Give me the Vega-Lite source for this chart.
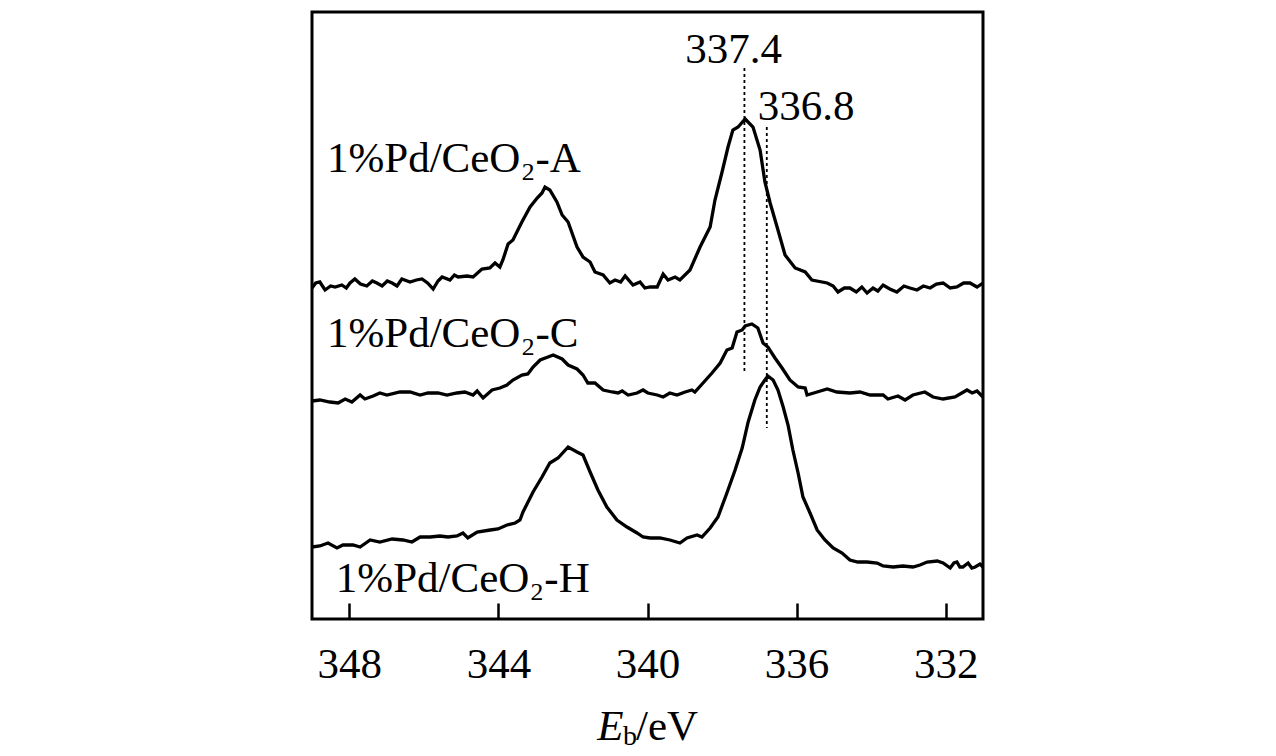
{
  "$schema": "https://vega.github.io/schema/vega-lite/v6.json",
  "width": 671,
  "height": 607,
  "autosize": {"type": "none"},
  "padding": {"left": 312, "top": 12, "right": 293, "bottom": 137},
  "background": "white",
  "config": {
    "view": {"stroke": "black", "strokeWidth": 3},
    "font": "Liberation Serif"
  },
  "datasets": {
    "spectra": [
      {"s":"A","e":349.00,"i":331},{"s":"A","e":348.90,"i":336},{"s":"A","e":348.79,"i":337},{"s":"A","e":348.65,"i":329},{"s":"A","e":348.50,"i":333},{"s":"A","e":348.38,"i":332},{"s":"A","e":348.20,"i":334},{"s":"A","e":348.08,"i":331},{"s":"A","e":347.98,"i":336},{"s":"A","e":347.85,"i":340},{"s":"A","e":347.70,"i":335},{"s":"A","e":347.53,"i":333},{"s":"A","e":347.38,"i":338},{"s":"A","e":347.26,"i":336},{"s":"A","e":347.12,"i":333},{"s":"A","e":346.98,"i":338},{"s":"A","e":346.85,"i":336},{"s":"A","e":346.72,"i":333},{"s":"A","e":346.59,"i":340},{"s":"A","e":346.37,"i":337},{"s":"A","e":346.20,"i":339},{"s":"A","e":346.05,"i":340},{"s":"A","e":345.90,"i":336},{"s":"A","e":345.75,"i":330},{"s":"A","e":345.62,"i":338},{"s":"A","e":345.51,"i":342},{"s":"A","e":345.30,"i":339},{"s":"A","e":345.18,"i":344},{"s":"A","e":345.08,"i":342},{"s":"A","e":344.84,"i":343},{"s":"A","e":344.68,"i":342},{"s":"A","e":344.44,"i":350},{"s":"A","e":344.23,"i":351},{"s":"A","e":344.09,"i":356},{"s":"A","e":343.96,"i":352},{"s":"A","e":343.88,"i":359},{"s":"A","e":343.74,"i":375},{"s":"A","e":343.61,"i":379},{"s":"A","e":343.37,"i":397},{"s":"A","e":343.15,"i":412},{"s":"A","e":342.96,"i":421},{"s":"A","e":342.83,"i":426},{"s":"A","e":342.75,"i":432},{"s":"A","e":342.62,"i":429},{"s":"A","e":342.43,"i":417},{"s":"A","e":342.29,"i":404},{"s":"A","e":342.13,"i":397},{"s":"A","e":341.89,"i":372},{"s":"A","e":341.73,"i":362},{"s":"A","e":341.54,"i":357},{"s":"A","e":341.41,"i":347},{"s":"A","e":341.19,"i":344},{"s":"A","e":341.01,"i":336},{"s":"A","e":340.87,"i":339},{"s":"A","e":340.72,"i":337},{"s":"A","e":340.60,"i":343},{"s":"A","e":340.39,"i":334},{"s":"A","e":340.20,"i":337},{"s":"A","e":340.07,"i":331},{"s":"A","e":339.93,"i":332},
      {"s":"A","e":339.74,"i":332},{"s":"A","e":339.58,"i":345},{"s":"A","e":339.45,"i":339},{"s":"A","e":339.26,"i":342},{"s":"A","e":339.13,"i":339},{"s":"A","e":338.86,"i":349},{"s":"A","e":338.59,"i":372},{"s":"A","e":338.32,"i":392},{"s":"A","e":338.19,"i":419},{"s":"A","e":338.00,"i":447},{"s":"A","e":337.84,"i":472},{"s":"A","e":337.71,"i":489},{"s":"A","e":337.57,"i":492},{"s":"A","e":337.38,"i":500},{"s":"A","e":337.17,"i":492},{"s":"A","e":336.98,"i":469},{"s":"A","e":336.85,"i":437},{"s":"A","e":336.71,"i":416},{"s":"A","e":336.50,"i":389},{"s":"A","e":336.31,"i":364},{"s":"A","e":336.04,"i":351},{"s":"A","e":335.77,"i":347},{"s":"A","e":335.59,"i":339},{"s":"A","e":335.18,"i":336},{"s":"A","e":335.02,"i":333},{"s":"A","e":334.89,"i":327},{"s":"A","e":334.72,"i":331},{"s":"A","e":334.57,"i":331},{"s":"A","e":334.40,"i":327},{"s":"A","e":334.25,"i":332},{"s":"A","e":334.11,"i":326},{"s":"A","e":333.95,"i":331},{"s":"A","e":333.82,"i":328},{"s":"A","e":333.68,"i":334},{"s":"A","e":333.50,"i":330},{"s":"A","e":333.31,"i":327},{"s":"A","e":333.12,"i":333},{"s":"A","e":332.96,"i":331},{"s":"A","e":332.77,"i":329},{"s":"A","e":332.60,"i":333},{"s":"A","e":332.42,"i":331},{"s":"A","e":332.25,"i":335},{"s":"A","e":332.07,"i":336},{"s":"A","e":331.88,"i":331},{"s":"A","e":331.70,"i":332},{"s":"A","e":331.52,"i":336},{"s":"A","e":331.35,"i":336},{"s":"A","e":331.16,"i":332},{"s":"A","e":331.00,"i":336},
      {"s":"C","e":349.00,"i":218},{"s":"C","e":348.79,"i":219},{"s":"C","e":348.52,"i":217},{"s":"C","e":348.30,"i":216},{"s":"C","e":348.11,"i":220},{"s":"C","e":347.93,"i":217},{"s":"C","e":347.71,"i":224},{"s":"C","e":347.58,"i":220},{"s":"C","e":347.36,"i":223},{"s":"C","e":347.18,"i":226},{"s":"C","e":346.99,"i":224},{"s":"C","e":346.64,"i":227},{"s":"C","e":346.37,"i":227},{"s":"C","e":346.10,"i":224},{"s":"C","e":345.89,"i":226},{"s":"C","e":345.62,"i":226},{"s":"C","e":345.38,"i":224},{"s":"C","e":345.11,"i":226},{"s":"C","e":344.90,"i":227},{"s":"C","e":344.68,"i":224},{"s":"C","e":344.57,"i":228},{"s":"C","e":344.41,"i":221},{"s":"C","e":344.17,"i":229},{"s":"C","e":343.96,"i":231},{"s":"C","e":343.77,"i":234},{"s":"C","e":343.61,"i":239},{"s":"C","e":343.37,"i":244},{"s":"C","e":343.21,"i":245},{"s":"C","e":343.07,"i":252},{"s":"C","e":342.88,"i":259},{"s":"C","e":342.67,"i":262},{"s":"C","e":342.53,"i":264},{"s":"C","e":342.29,"i":260},{"s":"C","e":342.13,"i":254},{"s":"C","e":341.89,"i":250},{"s":"C","e":341.73,"i":244},{"s":"C","e":341.60,"i":236},{"s":"C","e":341.41,"i":236},{"s":"C","e":341.19,"i":229},{"s":"C","e":340.95,"i":227},{"s":"C","e":340.79,"i":226},{"s":"C","e":340.68,"i":228},{"s":"C","e":340.52,"i":224},{"s":"C","e":340.28,"i":226},{"s":"C","e":340.12,"i":229},{"s":"C","e":339.99,"i":226},
      {"s":"C","e":339.74,"i":224},{"s":"C","e":339.58,"i":222},{"s":"C","e":339.40,"i":226},{"s":"C","e":339.21,"i":224},{"s":"C","e":338.99,"i":227},{"s":"C","e":338.81,"i":229},{"s":"C","e":338.73,"i":227},{"s":"C","e":338.51,"i":236},{"s":"C","e":338.27,"i":246},{"s":"C","e":338.05,"i":256},{"s":"C","e":337.87,"i":269},{"s":"C","e":337.73,"i":271},{"s":"C","e":337.60,"i":287},{"s":"C","e":337.46,"i":289},{"s":"C","e":337.38,"i":293},{"s":"C","e":337.20,"i":295},{"s":"C","e":337.04,"i":291},{"s":"C","e":336.90,"i":276},{"s":"C","e":336.77,"i":272},{"s":"C","e":336.58,"i":261},{"s":"C","e":336.39,"i":251},{"s":"C","e":336.18,"i":239},{"s":"C","e":335.96,"i":232},{"s":"C","e":335.77,"i":231},{"s":"C","e":335.72,"i":224},{"s":"C","e":335.45,"i":227},{"s":"C","e":335.18,"i":230},{"s":"C","e":334.92,"i":227},{"s":"C","e":334.57,"i":226},{"s":"C","e":334.30,"i":227},{"s":"C","e":334.03,"i":224},{"s":"C","e":333.68,"i":224},{"s":"C","e":333.55,"i":220},{"s":"C","e":333.28,"i":223},{"s":"C","e":333.09,"i":219},{"s":"C","e":332.88,"i":224},{"s":"C","e":332.56,"i":227},{"s":"C","e":332.34,"i":222},{"s":"C","e":332.07,"i":220},{"s":"C","e":331.75,"i":222},{"s":"C","e":331.43,"i":229},{"s":"C","e":331.29,"i":226},{"s":"C","e":331.16,"i":228},{"s":"C","e":331.00,"i":222},
      {"s":"H","e":349.00,"i":72},{"s":"H","e":348.79,"i":73},{"s":"H","e":348.57,"i":76},{"s":"H","e":348.33,"i":71},{"s":"H","e":348.17,"i":74},{"s":"H","e":347.90,"i":74},{"s":"H","e":347.71,"i":72},{"s":"H","e":347.44,"i":79},{"s":"H","e":347.18,"i":77},{"s":"H","e":346.85,"i":80},{"s":"H","e":346.56,"i":79},{"s":"H","e":346.32,"i":77},{"s":"H","e":346.10,"i":82},{"s":"H","e":345.83,"i":82},{"s":"H","e":345.57,"i":83},{"s":"H","e":345.35,"i":82},{"s":"H","e":345.11,"i":83},{"s":"H","e":344.95,"i":86},{"s":"H","e":344.82,"i":81},{"s":"H","e":344.57,"i":87},{"s":"H","e":344.22,"i":89},{"s":"H","e":344.01,"i":90},{"s":"H","e":343.77,"i":94},{"s":"H","e":343.55,"i":96},{"s":"H","e":343.42,"i":99},{"s":"H","e":343.34,"i":107},{"s":"H","e":343.07,"i":127},{"s":"H","e":342.83,"i":142},{"s":"H","e":342.62,"i":156},{"s":"H","e":342.40,"i":161},{"s":"H","e":342.13,"i":172},{"s":"H","e":341.89,"i":167},{"s":"H","e":341.73,"i":164},{"s":"H","e":341.54,"i":147},{"s":"H","e":341.33,"i":129},{"s":"H","e":341.09,"i":112},{"s":"H","e":340.82,"i":99},{"s":"H","e":340.55,"i":92},{"s":"H","e":340.28,"i":86},{"s":"H","e":340.12,"i":82},{"s":"H","e":339.93,"i":81},
      {"s":"H","e":339.67,"i":81},{"s":"H","e":339.40,"i":79},{"s":"H","e":339.13,"i":76},{"s":"H","e":338.94,"i":81},{"s":"H","e":338.67,"i":84},{"s":"H","e":338.54,"i":82},{"s":"H","e":338.32,"i":91},{"s":"H","e":338.11,"i":102},{"s":"H","e":337.87,"i":126},{"s":"H","e":337.65,"i":149},{"s":"H","e":337.46,"i":171},{"s":"H","e":337.30,"i":197},{"s":"H","e":337.12,"i":219},{"s":"H","e":336.98,"i":232},{"s":"H","e":336.85,"i":239},{"s":"H","e":336.77,"i":243},{"s":"H","e":336.63,"i":239},{"s":"H","e":336.50,"i":229},{"s":"H","e":336.36,"i":212},{"s":"H","e":336.23,"i":194},{"s":"H","e":336.10,"i":169},{"s":"H","e":335.96,"i":146},{"s":"H","e":335.83,"i":122},{"s":"H","e":335.64,"i":106},{"s":"H","e":335.45,"i":89},{"s":"H","e":335.24,"i":79},{"s":"H","e":335.02,"i":71},{"s":"H","e":334.78,"i":66},{"s":"H","e":334.57,"i":59},{"s":"H","e":334.36,"i":57},{"s":"H","e":334.11,"i":57},{"s":"H","e":333.84,"i":56},{"s":"H","e":333.68,"i":53},{"s":"H","e":333.41,"i":52},{"s":"H","e":333.15,"i":53},{"s":"H","e":332.88,"i":52},{"s":"H","e":332.69,"i":54},{"s":"H","e":332.50,"i":57},{"s":"H","e":332.23,"i":58},{"s":"H","e":332.07,"i":56},{"s":"H","e":331.88,"i":51},{"s":"H","e":331.78,"i":56},{"s":"H","e":331.70,"i":57},{"s":"H","e":331.62,"i":52},{"s":"H","e":331.54,"i":52},{"s":"H","e":331.40,"i":56},{"s":"H","e":331.30,"i":51},{"s":"H","e":331.21,"i":52},{"s":"H","e":331.08,"i":55},{"s":"H","e":331.00,"i":52}
    ],
    "guides": [
      {"e":337.4,"top":551,"bottom":246},
      {"e":336.8,"top":492,"bottom":191}
    ],
    "labels": [
      {"t":"1%Pd/CeO₂-A","e":348.60,"i":447},
      {"t":"1%Pd/CeO₂-C","e":348.60,"i":272},
      {"t":"1%Pd/CeO₂-H","e":348.36,"i":27},
      {"t":"337.4","e":338.99,"i":556},
      {"t":"336.8","e":337.04,"i":499},
      {"t":"/eV","e":340.31,"i":-121}
    ]
  },
  "layer": [
    {
      "data": {"name": "spectra"},
      "mark": {"type": "line", "color": "black", "strokeWidth": 3.3, "strokeJoin": "miter"},
      "encoding": {
        "x": {
          "field": "e", "type": "quantitative",
          "scale": {"domain": [349, 331], "nice": false, "zero": false},
          "axis": {
            "values": [348, 344, 340, 336, 332],
            "title": null,
            "domain": false,
            "grid": false,
            "tickSize": -16,
            "tickWidth": 2.5,
            "tickColor": "black",
            "labelFont": "Liberation Serif",
            "labelFontSize": 43,
            "labelColor": "black",
            "labelPadding": 40,
            "labelFlush": false
          }
        },
        "y": {
          "field": "i", "type": "quantitative",
          "scale": {"domain": [0, 607], "nice": false, "zero": false},
          "axis": null
        },
        "detail": {"field": "s"}
      }
    },
    {
      "data": {"name": "guides"},
      "mark": {"type": "rule", "color": "black", "strokeWidth": 1.8, "strokeDash": [3, 3]},
      "encoding": {
        "x": {"field": "e", "type": "quantitative"},
        "y": {"field": "top", "type": "quantitative"},
        "y2": {"field": "bottom"}
      }
    },
    {
      "data": {"name": "labels"},
      "mark": {"type": "text", "font": "Liberation Serif", "fontSize": 43, "align": "left", "baseline": "alphabetic", "color": "black"},
      "encoding": {
        "x": {"field": "e", "type": "quantitative"},
        "y": {"field": "i", "type": "quantitative"},
        "text": {"field": "t"}
      }
    },
    {
      "data": {"values": [{"t":"E","e":341.35,"i":-121}]},
      "mark": {"type": "text", "font": "Liberation Serif", "fontSize": 43, "fontStyle": "italic", "align": "left", "baseline": "alphabetic", "color": "black"},
      "encoding": {
        "x": {"field": "e", "type": "quantitative"},
        "y": {"field": "i", "type": "quantitative"},
        "text": {"field": "t"}
      }
    },
    {
      "data": {"values": [{"t":"b","e":340.66,"i":-126}]},
      "mark": {"type": "text", "font": "Liberation Serif", "fontSize": 28, "align": "left", "baseline": "alphabetic", "color": "black"},
      "encoding": {
        "x": {"field": "e", "type": "quantitative"},
        "y": {"field": "i", "type": "quantitative"},
        "text": {"field": "t"}
      }
    }
  ]
}
